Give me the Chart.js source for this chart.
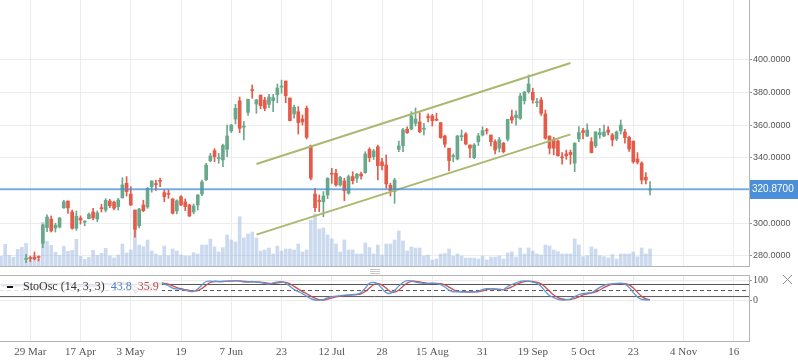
<!DOCTYPE html>
<html><head><meta charset="utf-8">
<script src="https://cdn.jsdelivr.net/npm/chart.js@4.4.0/dist/chart.umd.min.js"></script>
<style>
html,body{margin:0;padding:0;background:#fff;}
#wrap{position:relative;width:798px;height:363px;overflow:hidden;background:#fff;}
#c-main{position:absolute;left:0;top:0;}
#c-osc{position:absolute;left:0;top:267px;}
</style></head><body>
<div id="wrap"><canvas id="c-main" width="798" height="267"></canvas><canvas id="c-osc" width="798" height="96"></canvas></div>
<script>
// ==================================================
// Data (bar index 0 = first visible candle)
// ==================================================
const FIRST_BAR=-6; // volume + oscillator start 6 bars earlier
const openP=[277.8,278.6,279.0,279.2,287.6,297.2,302.5,297.0,297.6,309.4,
313.5,306.8,296.8,303.1,300.6,302.7,306.8,302.5,309.4,308.0,
313.5,312.8,310.1,315.6,324.4,317.8,308.0,298.4,311.1,309.9,
322.3,324.0,326.0,318.7,318.0,314.8,307.4,316.2,313.0,311.1,
306.8,311.1,317.8,326.6,338.2,344.4,339.6,338.7,345.2,356.5,
363.8,374.9,358.8,367.9,381.6,373.0,378.5,375.5,372.8,375.1,
378.7,383.4,387.1,376.7,366.9,368.3,363.8,370.4,347.5,317.8,
313.7,313.1,317.2,330.6,330.5,323.4,325.8,318.3,328.5,327.5,
330.1,330.9,345.2,340.7,346.8,337.5,335.6,323.2,319.3,345.2,
347.5,357.5,357.7,361.2,362.0,357.6,365.1,365.7,363.4,361.6,
353.4,345.9,340.8,339.3,353.0,354.6,347.9,340.1,349.9,354.0,
356.9,354.0,349.9,345.9,349.0,351.4,365.2,364.6,364.3,375.1,
380.6,380.2,373.8,375.5,366.9,353.4,351.4,350.3,340.5,342.4,
343.4,336.7,351.6,356.7,353.4,349.9,347.3,354.2,353.4,357.1,
354.0,351.6,356.5,355.9,352.6,350.3,339.3,336.8,328.1,320.3];
const highP=[280.9,279.8,282.3,280.0,299.4,305.0,304.4,300.0,303.5,314.0,
313.7,308.0,307.4,304.4,301.5,306.2,309.0,307.4,311.5,315.0,
314.5,313.5,315.2,327.8,328.5,322.3,308.0,309.0,314.0,321.8,
326.0,326.4,327.6,320.3,320.3,315.0,314.2,316.8,314.8,311.5,
311.7,317.5,326.4,336.7,342.8,345.6,342.8,348.5,360.1,360.5,
372.8,377.3,362.2,376.0,384.7,375.9,378.5,377.1,379.0,379.0,
385.3,387.7,387.1,376.7,372.4,371.4,366.3,371.8,347.9,321.3,
317.2,319.3,327.8,333.6,333.0,328.7,327.5,329.5,331.5,330.5,
331.2,343.8,346.2,345.2,347.9,339.7,341.8,324.4,327.5,350.3,
358.1,359.0,368.3,370.6,367.7,361.2,367.0,366.7,367.3,361.7,
354.0,345.9,342.4,353.8,357.1,355.5,347.9,348.8,355.0,359.1,
358.1,354.0,351.0,352.6,349.5,363.6,369.3,368.9,379.6,380.6,
390.8,382.6,376.5,377.0,369.3,353.4,352.6,351.0,343.2,344.8,
344.8,349.3,359.1,358.1,360.8,352.4,356.0,358.1,360.1,359.1,
355.0,356.5,363.2,357.5,353.4,350.3,343.2,337.6,331.0,325.4];
const lowP=[275.7,276.3,277.4,276.8,284.9,294.7,294.5,294.5,297.0,309.0,
306.0,296.2,295.6,299.4,298.4,302.5,301.9,300.9,306.8,306.8,
309.5,308.0,308.0,315.2,316.6,310.7,291.3,297.0,307.0,309.0,
318.9,320.1,322.3,313.1,315.2,305.6,305.6,310.7,307.6,303.9,
305.6,308.0,316.8,326.0,337.6,337.6,336.7,334.6,340.7,355.5,
360.8,355.4,351.0,366.0,376.5,367.3,370.0,368.9,370.8,368.3,
373.8,379.6,373.8,362.6,364.3,354.6,360.1,351.6,326.4,307.0,
307.0,303.9,315.0,324.4,322.7,322.7,313.7,317.7,324.0,325.0,
327.0,330.5,337.6,339.0,326.4,332.6,321.3,316.6,312.1,343.8,
343.8,355.0,357.1,359.5,355.4,354.0,362.0,359.5,362.8,352.0,
346.5,332.0,337.6,338.7,350.5,348.0,340.1,339.5,347.5,353.4,
354.6,347.3,342.4,343.6,343.0,350.3,361.2,360.1,363.6,373.0,
379.6,373.5,371.4,366.0,351.4,342.4,341.8,341.0,336.1,339.1,
336.1,331.5,349.9,351.6,353.0,343.0,346.3,352.0,353.0,354.0,
347.3,350.5,354.6,349.0,344.0,336.7,336.2,324.0,324.0,317.2];
const closeP=[278.2,278.2,278.0,278.9,298.8,303.7,295.2,298.8,303.1,313.1,
309.3,296.8,304.2,301.9,301.0,305.4,303.1,306.2,308.8,314.0,
310.7,309.1,314.2,323.4,319.3,311.1,296.2,308.6,307.6,321.3,
325.8,323.6,325.6,316.2,317.6,306.0,313.7,311.1,310.1,304.4,
310.5,317.2,325.2,335.6,341.1,340.7,339.9,347.7,353.4,360.1,
370.4,358.1,359.5,375.9,381.2,375.5,372.0,370.4,377.3,376.9,
382.8,383.8,378.1,362.8,371.0,361.6,362.0,352.6,327.5,309.4,
313.3,316.6,327.5,330.0,323.4,328.1,319.9,328.5,326.0,330.0,
328.9,342.4,340.1,344.2,335.2,335.2,324.0,319.9,326.4,347.3,
357.1,355.4,365.7,363.8,356.0,358.2,364.7,362.8,363.0,352.4,
348.3,338.3,341.4,353.4,353.4,348.5,345.9,347.9,353.4,356.7,
356.5,349.9,344.8,351.0,343.8,363.6,363.2,366.3,377.9,380.4,
385.3,375.5,374.4,367.3,352.0,345.9,345.9,341.3,340.0,341.3,
342.0,349.0,355.5,355.5,357.1,343.2,355.9,355.5,355.9,355.7,
351.0,355.9,360.1,352.4,345.4,337.6,337.3,326.4,326.4,320.87];
// volume in millions, from bar FIRST_BAR
const volume=[1.07,2.27,1.17,0.97,1.77,1.97,
2.37,0.97,1.17,0.77,4.47,2.57,2.17,1.47,1.17,2.07,
1.57,1.67,2.77,1.07,0.77,0.97,1.67,1.17,1.37,1.87,
1.10,0.90,1.20,2.30,1.40,1.70,3.77,2.20,2.03,2.70,
1.60,1.30,1.13,2.10,1.13,1.80,1.60,1.20,1.10,1.10,
1.43,1.30,2.20,2.20,2.80,2.00,1.50,1.93,3.20,2.70,
2.50,5.03,2.90,3.30,3.50,2.90,1.60,1.70,1.90,1.30,
2.10,1.60,1.80,1.80,1.70,2.30,1.50,1.70,4.70,5.30,
3.80,3.90,3.20,2.80,2.30,1.50,2.70,1.70,1.70,1.30,
1.30,2.40,1.95,1.30,2.20,1.20,2.30,2.30,2.70,3.60,
2.60,1.60,2.00,1.90,1.90,1.10,1.20,0.70,0.80,1.30,
1.35,1.80,1.10,1.30,1.10,0.90,0.90,0.90,0.80,1.10,
0.70,1.00,1.00,1.10,0.80,1.40,1.50,1.00,1.90,1.30,
1.90,1.60,1.30,1.20,2.20,2.10,1.70,1.53,1.30,1.30,
1.30,2.80,2.20,1.03,1.13,2.00,1.80,1.13,1.03,0.90,
1.23,0.80,1.30,1.30,1.30,1.50,1.03,1.90,1.30,1.80];
// stochastic %K / %D, from bar FIRST_BAR
const stoK=[75,72,70,72,76,78,
70,62,60,58,80,90,82,80,86,92,
88,70,74,72,70,74,72,76,82,86,
82,78,80,90,88,80,40,50,55,68,
80,86,90,82,74,62,58,56,52,46,
46,58,78,95,97,95,94,96,97,98,
99,97,92,92,95,92,90,86,82,88,
93,94,86,72,55,45,35,22,10,3,
2,5,14,20,22,25,27,28,30,32,
40,62,86,90,82,60,40,36,50,72,
90,99,98,92,88,86,85,87,85,80,
68,52,44,44,44,43,42,44,46,55,
60,58,55,56,54,70,80,88,96,98,
96,92,86,70,45,25,15,6,3,5,
8,20,30,35,38,40,52,66,76,82,
84,85,86,82,66,40,18,6,3,4];
const stoD=[72,73,72,71,73,75,
74,70,64,60,66,76,84,84,83,86,
89,83,77,72,72,72,72,74,77,81,
83,82,80,83,86,86,69,57,48,58,
68,78,85,86,82,73,65,59,55,51,
48,50,61,77,90,96,95,95,96,97,
98,98,96,94,93,93,92,89,86,85,
88,92,91,84,71,57,45,34,22,12,
5,3,7,13,19,22,25,27,28,30,
34,45,63,79,86,77,61,45,42,53,
71,87,96,96,93,89,86,86,86,84,
78,67,55,47,44,44,43,43,44,48,
54,58,58,56,55,60,68,79,88,94,
97,95,91,83,67,47,28,15,8,5,
5,11,19,28,34,38,43,53,65,75,
81,84,85,84,78,63,41,21,9,4];
const tickBars=[1,13,25,37,49,61,73,85,97,109,121,133,145,157,169];
const tickLabels=['29 Mar','17 Apr','3 May','19','7 Jun','23','12 Jul','28','15 Aug','31','19 Sep','5 Oct','23','4 Nov','16'];
const priceTicks=[280,300,320,340,360,380,400];
const channelBars=[55,130];
const channelUpper=[336.2,398.2];
const channelLower=[292.9,354.4];
const lastPrice=320.87;
const stoLevels=[80,50,20];
const stoTicks=[0,100];
const stoName='StoOsc (14, 3, 3)',stoKTxt='43.8',stoDTxt='35.9';

// ==================================================
// Layout constants
// ==================================================
const X_MIN=-6.23,X_MAX=172.63;
const UP='#6aa88c',DN='#e55b49',GRID='#ececec',FRAME='#b4b4b4';
const SERIF='"Liberation Serif","Times New Roman",serif',SANS='"Liberation Sans",Arial,sans-serif';
Chart.defaults.font.family=SANS;

const candleX=openP.map((_,i)=>i);
const barX=volume.map((_,i)=>FIRST_BAR+i);
const dirColor=candleX.map(i=>closeP[i]>=openP[i]?UP:DN);
function noPad(s){s.paddingTop=0;s.paddingBottom=0;s.paddingLeft=0;s.paddingRight=0;}
function xScale(showLabels){return{type:'linear',min:X_MIN,max:X_MAX,offset:false,
  afterBuildTicks:s=>{s.ticks=tickBars.map(v=>({value:v}));},
  afterFit:s=>{s.height=showLabels?21:0;noPad(s);},
  grid:{color:GRID,drawTicks:false,offset:false},border:{display:false},
  ticks:{display:showLabels,autoSkip:false,maxRotation:0,padding:4,font:{family:SERIF,size:11},color:'#555',callback:(v,i)=>tickLabels[i]}};}
function yScale(min,max,ticks,extra){return Object.assign({position:'right',min,max,
  afterBuildTicks:s=>{s.ticks=ticks.map(v=>({value:v}));},
  afterFit:s=>{s.width=49;noPad(s);},
  grid:{color:GRID,tickLength:3,tickColor:'#9a9a9a'},border:{display:false}},extra);}

// ==================================================
// Price panel
// ==================================================
const mainDecor={id:'mainDecor',afterDraw(c){
  const{ctx,chartArea:a}=c,y=c.scales.y;
  ctx.save();ctx.strokeStyle=FRAME;ctx.lineWidth=1;ctx.beginPath();
  ctx.moveTo(a.right+.5,a.top);ctx.lineTo(a.right+.5,a.bottom);
  ctx.moveTo(a.left,a.bottom-.5);ctx.lineTo(a.right+1,a.bottom-.5);ctx.stroke();
  const py=Math.round(y.getPixelForValue(lastPrice));
  ctx.fillStyle='#4a8fd7';ctx.fillRect(a.right+1,py-9,49,19);
  ctx.fillStyle='#fff';ctx.font='10px '+SANS;ctx.textBaseline='middle';ctx.textAlign='left';
  ctx.fillText(lastPrice.toFixed(4),a.right+3,py+.5);ctx.restore();}};

new Chart(document.getElementById('c-main'),{type:'bar',
  data:{datasets:[
    {type:'line',data:[{x:X_MIN,y:lastPrice},{x:X_MAX,y:lastPrice}],borderColor:'#3d8de0',borderWidth:1.3,pointRadius:0,yAxisID:'y',order:1},
    {type:'line',data:channelBars.map((x,i)=>({x,y:channelUpper[i]})),borderColor:'#aab96f',borderWidth:2,pointRadius:0,yAxisID:'y',order:2},
    {type:'line',data:channelBars.map((x,i)=>({x,y:channelLower[i]})),borderColor:'#aab96f',borderWidth:2,pointRadius:0,yAxisID:'y',order:2},
    {data:candleX.map(i=>({x:i,y:[openP[i],closeP[i]]})),backgroundColor:dirColor,barThickness:3,minBarLength:1,grouped:false,yAxisID:'y',order:4},
    {data:candleX.map(i=>({x:i,y:[lowP[i],highP[i]]})),backgroundColor:dirColor,barThickness:1,grouped:false,yAxisID:'y',order:5},
    {data:barX.map((x,i)=>({x,y:volume[i]})),backgroundColor:'rgba(160,188,224,0.55)',barThickness:3,grouped:false,yAxisID:'yv',order:10}
  ]},
  options:{responsive:false,animation:false,events:[],layout:{padding:0,autoPadding:false},
    plugins:{legend:{display:false},tooltip:{enabled:false}},
    scales:{
      x:xScale(false),
      y:yScale(273.07,436.79,priceTicks,{ticks:{padding:1,font:{size:9},color:'#555',callback:v=>v===320?'':v.toFixed(4)}}),
      yv:{display:false,min:0,max:26.7}
    }},
  plugins:[mainDecor]});

// ==================================================
// Stochastic panel
// ==================================================
const oscDecor={id:'oscDecor',afterDraw(c){
  const{ctx,chartArea:a}=c;
  ctx.save();ctx.strokeStyle=FRAME;ctx.lineWidth=1;ctx.beginPath();
  ctx.moveTo(a.left,a.top+.5);ctx.lineTo(a.right+1,a.top+.5);
  ctx.moveTo(a.right+.5,a.top);ctx.lineTo(a.right+.5,a.bottom);
  ctx.moveTo(a.left,a.bottom-.5);ctx.lineTo(a.right+1,a.bottom-.5);ctx.stroke();
  // resize grip
  ctx.strokeStyle='#c8c8c8';ctx.beginPath();
  [2.5,4.5,6.5].forEach(y=>{ctx.moveTo(370,y);ctx.lineTo(380,y);});ctx.stroke();
  // close cross
  ctx.strokeStyle='#8a8a8a';ctx.beginPath();ctx.moveTo(783,8);ctx.lineTo(792,17);ctx.moveTo(792,8);ctx.lineTo(783,17);ctx.stroke();
  // legend
  ctx.fillStyle='rgba(255,255,255,0.82)';ctx.fillRect(0,a.top+1,162,17);
  const ly=a.top+12;
  ctx.fillStyle='#111';ctx.fillRect(7,ly-1,6,2);
  ctx.font='12px '+SERIF;ctx.textBaseline='middle';ctx.textAlign='left';
  let x=23;ctx.fillStyle='#333';ctx.fillText(stoName,x,ly);x+=ctx.measureText(stoName).width+6;
  ctx.fillStyle='#4a7fc1';ctx.fillText(stoKTxt,x,ly);x+=ctx.measureText(stoKTxt).width+6;
  ctx.fillStyle='#c0504d';ctx.fillText(stoDTxt,x,ly);
  ctx.restore();}};

const levelSets=stoLevels.map((v,i)=>({data:[{x:X_MIN,y:v},{x:X_MAX,y:v}],borderColor:'#555',borderWidth:1,borderDash:i===1?[4,3]:[],pointRadius:0,order:5}));
new Chart(document.getElementById('c-osc'),{type:'line',
  data:{datasets:[
    ...levelSets,
    {data:barX.map((x,i)=>({x,y:stoD[i]})),borderColor:'#c9504d',borderWidth:1.3,pointRadius:0,tension:.4,order:2},
    {data:barX.map((x,i)=>({x,y:stoK[i]})),borderColor:'#6197d8',borderWidth:1.3,pointRadius:0,tension:.4,order:1}
  ]},
  options:{responsive:false,animation:false,events:[],layout:{padding:{top:8},autoPadding:false},
    plugins:{legend:{display:false},tooltip:{enabled:false}},
    scales:{
      x:xScale(true),
      y:yScale(-206,127.4,stoTicks,{ticks:{padding:1,font:{family:SERIF,size:10},color:'#555'}})
    }},
  plugins:[oscDecor]});
</script></body></html>
